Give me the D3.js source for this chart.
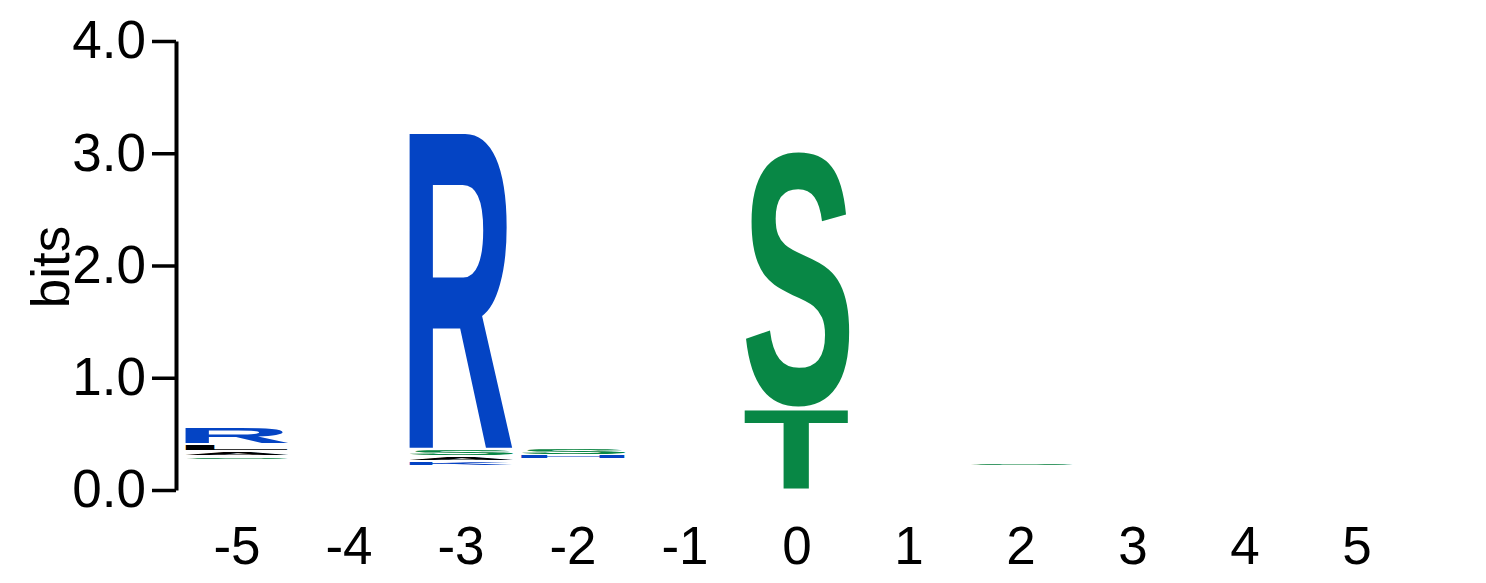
<html>
<head>
<script src="https://d3js.org/d3.v7.min.js"></script>
<style>
  body { margin: 0; background: #fff; }
  text { font-family: "Liberation Sans", Arial, Helvetica, sans-serif; }
</style>
</head>
<body>
<script>
// positions of the logo, bottom-to-top letters and their heights (bits)
var positions = [-5, -4, -3, -2, -1, 0, 1, 2, 3, 4, 5];
var hiddenBits = [0.265, 0, 0.214, 0.272, 0, 0.008, 0, 0.208, 0, 0, 0]; // residues too small to draw
var letters = ["SALR", "", "KASR", "HS", "", "TS", "", "S", "", "", ""];
var heights = [
  [0.035, 0.045, 0.06, 0.162],
  [],
  [0.045, 0.043, 0.064, 2.825],
  [0.038, 0.066],
  [],
  [0.724, 2.29],
  [],
  [0.034],
  [], [], []
];
var yTicks = [0, 1, 2, 3, 4];

var colors = {};
"GSTYC".split("").forEach(function(c){ colors[c] = "#088745"; });
"KRH".split("").forEach(function(c){ colors[c] = "#0444c4"; });
"DE".split("").forEach(function(c){ colors[c] = "#d52b1e"; });
"QN".split("").forEach(function(c){ colors[c] = "#7b3294"; });
"AVLIPWFM".split("").forEach(function(c){ colors[c] = "#000000"; });

var w = 1486, h = 583;
var pad = 1.2;   // gap inside each letter box
var letterW = 105;

var x = d3.scaleLinear().domain([-5, 5]).range([237, 1357]);
var y = d3.scaleLinear().domain([0, 4]).range([490, 41]);

var svg = d3.select("body").append("svg").attr("width", w).attr("height", h);

// glyph ink bounds
var ctx = document.createElement("canvas").getContext("2d");
ctx.font = "bold 100px 'Liberation Sans'";
function bounds(c) {
  var m = ctx.measureText(c);
  return {l: m.actualBoundingBoxLeft, r: m.actualBoundingBoxRight,
          a: m.actualBoundingBoxAscent, d: m.actualBoundingBoxDescent};
}

var glyphs = [];
positions.forEach(function(p, i) {
  var base = hiddenBits[i];
  letters[i].split("").forEach(function(c, j) {
    var top = base + heights[i][j];
    glyphs.push({pos: p, c: c, y0: base, y1: top});
    base = top;
  });
});

svg.append("g").selectAll("text").data(glyphs).enter()
  .filter(function(d){ return (y(d.y0) - y(d.y1)) - 2 * pad > 0.4; })
  .append("text")
  .attr("font-size", 100)
  .attr("font-weight", "bold")
  .attr("fill", function(d){ return colors[d.c]; })
  .attr("transform", function(d){
    var b = bounds(d.c);
    var bx = x(d.pos) - letterW / 2;
    var by = y(d.y1) + pad;
    var bh = (y(d.y0) - y(d.y1)) - 2 * pad;
    var sx = letterW / (b.l + b.r), sy = bh / (b.a + b.d);
    return "translate(" + (bx + b.l * sx) + "," + (by + b.a * sy) + ") scale(" + sx + "," + sy + ")";
  })
  .text(function(d){ return d.c; });

// y axis
var yAxis = d3.axisLeft(y).tickValues(yTicks).tickFormat(d3.format(".1f"))
  .tickSize(24).tickSizeOuter(0).tickPadding(6);
var ya = svg.append("g").attr("transform", "translate(176,0)").call(yAxis);
ya.select(".domain").attr("stroke", "#000").attr("stroke-width", 4);
ya.selectAll(".tick line").attr("stroke", "#000").attr("stroke-width", 3.5);
ya.selectAll(".tick text").attr("font-size", 53).attr("fill", "#000")
  .attr("font-family", "'Liberation Sans', Arial, sans-serif");

// x labels
svg.append("g").selectAll("text").data(positions).enter().append("text")
  .attr("x", function(d){ return x(d); })
  .attr("y", 564)
  .attr("text-anchor", "middle")
  .attr("font-size", 53)
  .attr("fill", "#000")
  .text(function(d){ return d; });

svg.append("text")
  .attr("transform", "translate(69,267) rotate(-90)")
  .attr("text-anchor", "middle")
  .attr("font-size", 53)
  .attr("fill", "#000")
  .text("bits");
</script>
</body>
</html>
